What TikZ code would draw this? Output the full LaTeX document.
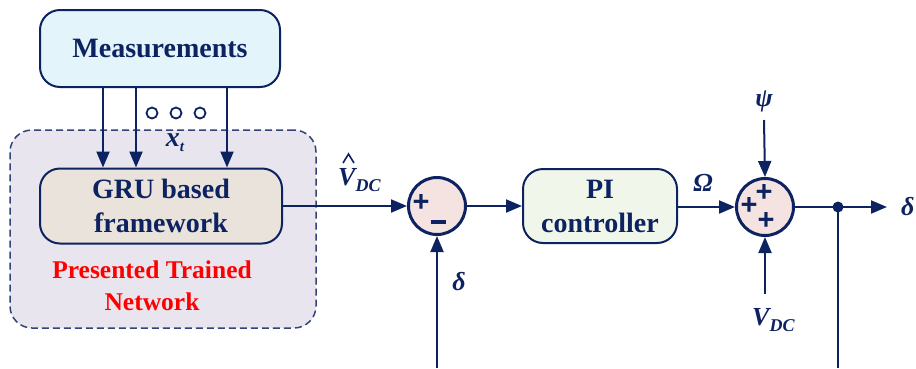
\documentclass[tikz,border=0pt]{standalone}
\usepackage{fontspec}
\setmainfont{Liberation Serif}
\setsansfont{Liberation Sans}
\usetikzlibrary{arrows.meta}
\definecolor{navy}{HTML}{0D2260}
\definecolor{measfill}{HTML}{E3F4FB}
\definecolor{netfill}{HTML}{E8E5EE}
\definecolor{grufill}{HTML}{EAE3DC}
\definecolor{sumfill}{HTML}{F5E3E1}
\definecolor{pifill}{HTML}{F0F7EA}
\definecolor{redtxt}{HTML}{FF0000}
\tikzset{
  blk/.style={draw=navy, line width=2pt, rounded corners=20pt, text=navy, font=\fontsize{28}{34}\selectfont\bfseries, align=center, inner sep=0pt},
  sumnode/.style={circle, draw=navy, fill=sumfill, line width=3pt, minimum size=57pt, inner sep=0pt},
  arr/.style={draw=navy, line width=2pt, -{Triangle[length=16pt,width=13pt]}},
  ln/.style={draw=navy, line width=2pt},
  lbl/.style={text=navy, font=\fontsize{26}{28}\selectfont\bfseries\itshape, inner sep=0pt},
  sgn/.style={text=navy, font=\fontsize{29}{29}\selectfont\sffamily\bfseries, inner sep=0pt},
  dotc/.style={circle, draw=navy, fill=white, line width=1.8pt, minimum size=11pt, inner sep=0pt}
}
\begin{document}
\begin{tikzpicture}[x=1pt,y=-1pt]
\useasboundingbox (0,0) rectangle (916,368);
% network container
\node[draw=navy!85, dashed, dash pattern=on 7pt off 4pt, line width=1.5pt, fill=netfill, rounded corners=22pt,
      minimum width=306pt, minimum height=198pt, inner sep=0pt] (net) at (163,229) {};
% measurements
\node[blk, fill=measfill, minimum width=240pt, minimum height=77pt] (meas) at (160,48.5) {Measurements};
% GRU
\node[blk, fill=grufill, minimum width=242pt, minimum height=75pt] (gru) at (161,206) {GRU based\\framework};
% red label
\node[text=redtxt, font=\fontsize{25.5}{32}\selectfont\bfseries, align=center, inner sep=0pt] (netlbl) at (152,286) {Presented Trained\\Network};
% arrows measurements -> gru
\coordinate (c1) at (103,0);
\coordinate (c2) at (136,0);
\coordinate (c3) at (227,0);
\draw[arr] (meas.south -| c1) -- (gru.north -| c1);
\draw[arr] (meas.south -| c2) -- (gru.north -| c2);
\draw[arr] (meas.south -| c3) -- (gru.north -| c3);
\node[dotc] (d1) at (152,113) {};
\node[dotc] (d2) at (176,113) {};
\node[dotc] (d3) at (200,113) {};
\node[lbl] (xt) at (175,143) {\fontsize{28}{28}\selectfont x\raisebox{-5pt}{\fontsize{15}{15}\selectfont t}};
% sum 1
\node[sumnode] (s1) at (437,206) {};
\node[sgn] (s1p) at (421,203) {+};
\node[sgn] (s1m) at (438,222) {\rule{15pt}{3.2pt}};
\draw[arr] (gru.east) -- (s1.west);
\node[lbl, anchor=west] (vhat) at (338,180) {V\raisebox{-6pt}{\fontsize{18}{18}\selectfont DC}};
\draw[navy, line width=1.6pt] (343,163) -- (348.5,154) -- (354,163);
\coordinate (fb1) at (437,368);
\draw[arr] (fb1) -- (s1.south);
\node[lbl] (delta1) at (459,282) {δ};
% PI controller
\node[blk, fill=pifill, minimum width=154pt, minimum height=74pt] (pi) at (600,206) {PI\\controller};
\draw[arr] (s1.east) -- (pi.west);
% sum 2
\node[sumnode] (s2) at (765,207) {};
\node[sgn] (s2a) at (764,193) {+};
\node[sgn] (s2b) at (749,206) {+};
\node[sgn] (s2c) at (766,221) {+};
\draw[arr] (pi.east |- s2.west) -- (s2.west);
\node[lbl] (omega) at (703,183) {Ω};
\node[lbl] (psi) at (764,101) {ψ};
\draw[arr] (764,120) -- (s2.north);
\node[lbl, anchor=west] (vdc) at (752,320) {V\raisebox{-6pt}{\fontsize{18}{18}\selectfont DC}};
\coordinate (vdcb) at (765,294);
\draw[arr] (vdcb) -- (s2.south);
% output
\coordinate (tap) at (838,207);
\coordinate (outend) at (887,207);
\draw[arr] (s2.east) -- (outend);
\fill[navy] (tap) circle (5.5pt);
\coordinate (fb2) at (838,368);
\draw[ln] (tap) -- (fb2);
\node[lbl, anchor=west] (delta2) at (901,207) {δ};
\end{tikzpicture}
\end{document}
